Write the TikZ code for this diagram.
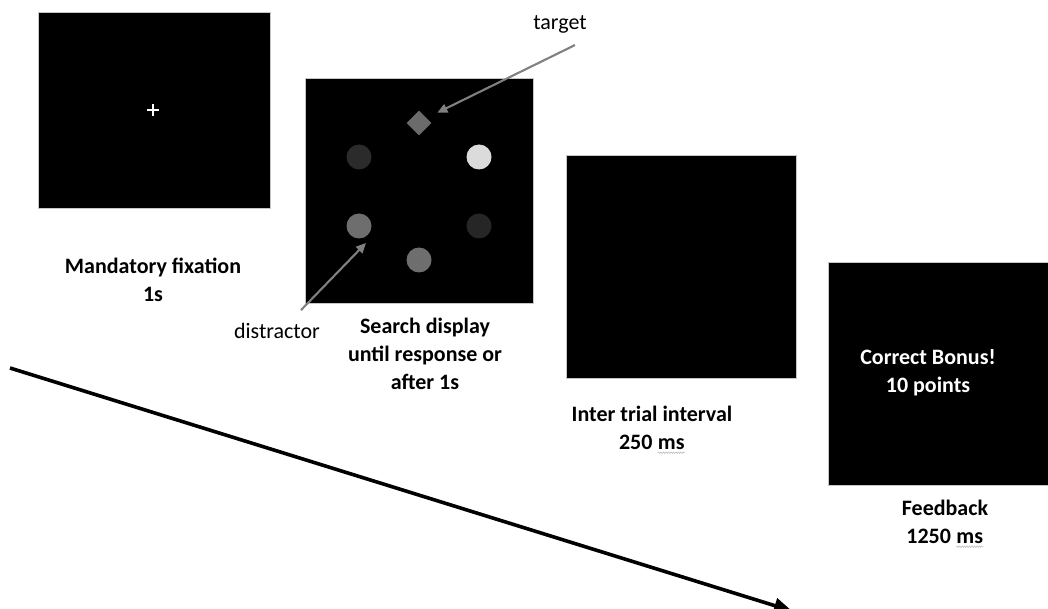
\documentclass[tikz,border=0pt]{standalone}
\usepackage{fontspec}
\setmainfont{Carlito}
\usetikzlibrary{arrows.meta,shapes.geometric,decorations.pathmorphing,calc}

% wavy spell-check style underline under a word
\newcommand{\wavyword}[1]{\tikz[baseline=(w.base)]{\node[inner sep=0pt,anchor=base,text=black] (w) {#1};
  \draw[gray!55,line width=0.5pt,decorate,decoration={snake,amplitude=0.8pt,segment length=2.5pt}]
    ([yshift=-3pt]w.base west) -- ([yshift=-3pt]w.base east);}}

\begin{document}
\begin{tikzpicture}[x=1pt,y=-1pt,
  screen/.style={draw=gray!45,line width=0.6pt,fill=black,anchor=north west,inner sep=0pt},
  dot/.style={circle,inner sep=0pt,minimum size=25pt},
  caption/.style={font=\fontsize{22}{28}\selectfont\bfseries,align=center,inner sep=0pt},
  note/.style={font=\fontsize{22}{28}\selectfont,inner sep=0pt},
  pointer/.style={draw=black!50,line width=2.1pt,-{Triangle[length=10pt,width=9pt]}},
  timeline/.style={draw=black,line width=3.6pt,-{Triangle[length=18pt,width=15pt]}}]

\clip (0,0) rectangle (1048,609);
\fill[white] (0,0) rectangle (1048,609);

% the four screens of a trial
\node[screen,minimum width=232pt,minimum height=196pt] (fix) at (38,12) {};
\node[screen,minimum width=228pt,minimum height=225pt] (search) at (305,78) {};
\node[screen,minimum width=230pt,minimum height=223pt] (iti) at (566,155) {};
\node[screen,minimum width=224pt,minimum height=223pt] (fb) at (828,262) {};

% fixation cross
\draw[white,line width=2.4pt] (147,110) -- (159,110) (153,104) -- (153,116);

% search array: target diamond and five coloured discs
\node[diamond,fill=black!58,inner sep=0pt,minimum width=25pt,minimum height=25pt] (dia) at (419,123) {};
\node[dot,fill=black!83] (d1) at (359,157) {};
\node[dot,fill=black!14] (d2) at (479,157) {};
\node[dot,fill=black!57] (d3) at (359,226) {};
\node[dot,fill=black!85] (d4) at (479,226) {};
\node[dot,fill=black!57] (d5) at (419,260) {};

% pointer labels
\node[note] (tgt) at (560,24) {target};
\node[note] (dis) at (277,331) {distractor};
\draw[pointer] ($(tgt.south)+(15,12)$) -- ($(dia.north east)+(12,-4)$);
\draw[pointer] ($(dis.north)+(24,-13)$) -- ($(d3.south east)+(-2,8)$);

% captions
\node[caption] (capfix) at (153,280) {Mandatory fixation\\1s};
\node[caption] (capsearch) at (425,354) {Search display\\until response or\\after 1s};
\node[caption] (capiti) at (652,430) {Inter trial interval\\250 \wavyword{ms}};
\node[caption,text=white] (capfb) at (928,373) {Correct Bonus!\\10 points};
\node[caption] (capfbt) at (945,524) {Feedback\\1250 \wavyword{ms}};

% time axis
\coordinate (tstart) at (10,368);
\coordinate (tend) at (792,611);
\draw[timeline] (tstart) -- (tend);
\end{tikzpicture}
\end{document}
